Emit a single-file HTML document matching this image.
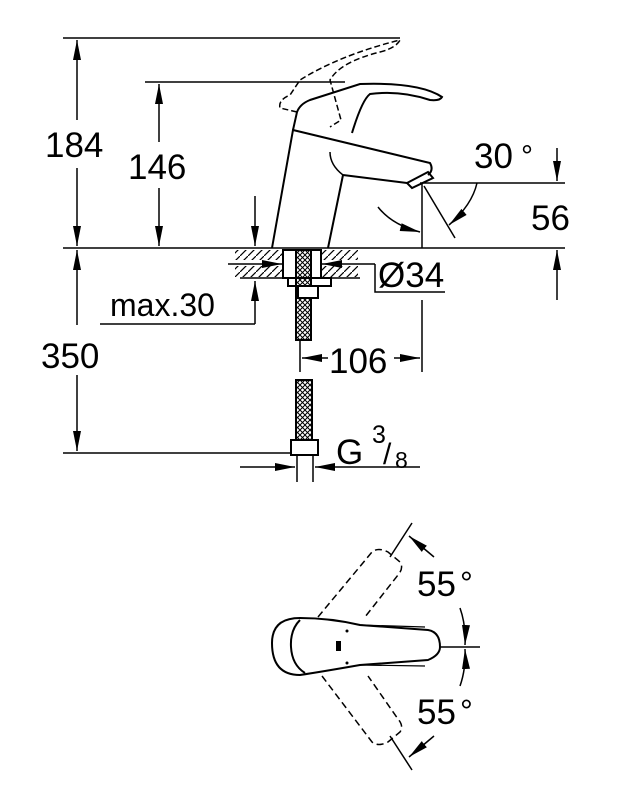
<!DOCTYPE html>
<html><head><style>html,body{margin:0;padding:0;background:#fff}svg{display:block}</style></head>
<body>
<svg width="633" height="789" viewBox="0 0 633 789" xmlns="http://www.w3.org/2000/svg" font-family="Liberation Sans, sans-serif" fill="none" stroke="#000" stroke-width="1.5">
<defs>
<marker id="b" viewBox="0 0 20 10" refX="20" refY="5" markerWidth="20" markerHeight="10" orient="auto-start-reverse" markerUnits="userSpaceOnUse"><path d="M0,1 L20,5 L0,9z" fill="#000" stroke="none"/></marker>
<pattern id="h" width="8" height="8" patternUnits="userSpaceOnUse"><path d="M0,8 L8,0" stroke="#000" stroke-width="1.2"/></pattern>
<pattern id="x" width="5" height="5" patternUnits="userSpaceOnUse"><path d="M0,0 L5,5 M5,0 L0,5" stroke="#000" stroke-width="1"/></pattern>
</defs>
<line x1="63" y1="38" x2="400" y2="38"/>
<line x1="145" y1="82" x2="345" y2="82"/>
<line x1="63" y1="248" x2="565" y2="248"/>
<line x1="63" y1="453" x2="292" y2="453"/>
<line x1="77" y1="40" x2="77" y2="120" marker-start="url(#b)"/>
<line x1="77" y1="168" x2="77" y2="246" marker-end="url(#b)"/>
<line x1="159" y1="84" x2="159" y2="142" marker-start="url(#b)"/>
<line x1="159" y1="188" x2="159" y2="246" marker-end="url(#b)"/>
<line x1="77" y1="250" x2="77" y2="325" marker-start="url(#b)"/>
<line x1="77" y1="375" x2="77" y2="451" marker-end="url(#b)"/>
<g fill="#000" stroke="none" font-size="35">
<text x="45" y="157">184</text>
<text x="128" y="179">146</text>
<text x="41" y="368">350</text>
<text x="110" y="316" font-size="32">max.30</text>
<text x="329" y="373">106</text>
<text x="378" y="287">Ø34</text>
<text x="531" y="230">56</text>
<text x="474" y="168">30</text>
<text x="521" y="166" font-size="30">°</text>
<text x="336" y="464">G</text>
<text x="372" y="443" font-size="25">3</text>
<text x="383" y="464" font-size="30">/</text>
<text x="395" y="468" font-size="23">8</text>
<text x="417" y="596">55</text><text x="460" y="594" font-size="32">°</text>
<text x="417" y="724">55</text><text x="460" y="722" font-size="32">°</text>
</g>
<line x1="100" y1="324" x2="255" y2="324"/>
<line x1="255" y1="324" x2="255" y2="281" marker-end="url(#b)"/>
<line x1="255" y1="196" x2="255" y2="246" marker-end="url(#b)"/>
<line x1="420" y1="183" x2="565" y2="183"/>
<line x1="557" y1="148" x2="557" y2="181" marker-end="url(#b)"/>
<line x1="557" y1="300" x2="557" y2="250" marker-end="url(#b)"/>
<line x1="422" y1="183" x2="422" y2="248"/>
<line x1="424" y1="186" x2="455" y2="238"/>
<path d="M477,183 Q472,205 449,225" marker-end="url(#b)"/>
<path d="M378,207 Q392,225 420,232" marker-end="url(#b)"/>
<path d="M272,248 L293,130 L430,163 Q434,170 428,175 M343,175 L328,248 M343,175 L407,183" stroke-width="2"/>
<path d="M343,175 Q330,165 330,152" stroke-width="1.5"/>
<path d="M407,183 L428,172 L433,178 L412,188 Z" stroke-width="2"/>
<path d="M293,130 L297,112 Q300,104 310,100 L360,84 Q420,82 442,97 Q440,101 430,100 Q400,90 370,94 Q362,100 352,133" stroke-width="2"/>
<path d="M297,112 L280,108 Q278,100 290,95 L300,80 Q340,55 400,40 Q396,48 380,52 Q340,62 330,80 L341,120 L330,127" stroke-dasharray="6,3" stroke-width="1.5"/>
<rect x="235" y="250" width="50" height="10" fill="url(#h)" stroke="none"/>
<rect x="235" y="266" width="50" height="11" fill="url(#h)" stroke="none"/>
<rect x="320" y="250" width="38" height="10" fill="url(#h)" stroke="none"/>
<rect x="320" y="266" width="38" height="11" fill="url(#h)" stroke="none"/>
<line x1="240" y1="278" x2="360" y2="278"/>
<rect x="283" y="250" width="38" height="28" fill="#fff" stroke-width="2"/>
<rect x="288" y="278" width="43" height="8" stroke-width="2"/>
<line x1="228" y1="264" x2="282" y2="264" marker-end="url(#b)"/>
<line x1="375" y1="264" x2="322" y2="264" marker-end="url(#b)"/>
<path d="M375,264 L375,292 L445,292"/>
<rect x="296" y="250" width="15" height="90" fill="url(#x)" stroke-width="2"/>
<rect x="298" y="286" width="20" height="12" fill="#fff" stroke-width="2"/>
<rect x="296" y="380" width="16" height="60" fill="url(#x)" stroke-width="2"/>
<rect x="291" y="440" width="27" height="15" fill="#fff" stroke-width="2"/>
<line x1="297" y1="455" x2="297" y2="482"/>
<line x1="313" y1="455" x2="313" y2="482"/>
<line x1="300" y1="340" x2="300" y2="372"/>
<line x1="422" y1="300" x2="422" y2="372"/>
<line x1="328" y1="358" x2="302" y2="358" marker-end="url(#b)"/>
<line x1="394" y1="358" x2="420" y2="358" marker-end="url(#b)"/>
<line x1="240" y1="467" x2="295" y2="467" marker-end="url(#b)"/>
<line x1="420" y1="467" x2="315" y2="467" marker-end="url(#b)"/>
<path d="M300,618 Q272,618 272,643 Q272,675 300,675 Q320,672 360,665 L428,660 Q440,655 440,647 Q440,632 428,630 L360,625 Q330,618 300,618 Z" stroke-width="2"/>
<path d="M300,620 Q290,630 291,647 Q292,665 305,673" stroke-width="2"/>
<path d="M360,625 L425,627 M360,665 L425,666" stroke-width="1.2"/>
<rect x="336" y="641" width="5" height="10" fill="#000" stroke="none"/>
<circle cx="347" cy="631" r="1.5" fill="#000" stroke="none"/>
<circle cx="347" cy="663" r="1.5" fill="#000" stroke="none"/>
<line x1="440" y1="647" x2="480" y2="647"/>
<path d="M318,617 L372,552 Q378,547 388,552 L400,562 Q404,568 398,575 L365,617" stroke-dasharray="7,4"/>
<path d="M322,676 L372,742 Q378,747 388,742 L400,732 Q404,726 398,719 L368,676" stroke-dasharray="7,4"/>
<line x1="412" y1="523" x2="390" y2="557"/>
<line x1="434" y1="557" x2="409" y2="536" marker-end="url(#b)"/>
<line x1="412" y1="770" x2="390" y2="736"/>
<line x1="434" y1="736" x2="409" y2="757" marker-end="url(#b)"/>
<path d="M460,608 Q466,625 465,645" marker-end="url(#b)"/>
<path d="M460,686 Q466,669 465,649" marker-end="url(#b)"/>
</svg>
</body></html>
